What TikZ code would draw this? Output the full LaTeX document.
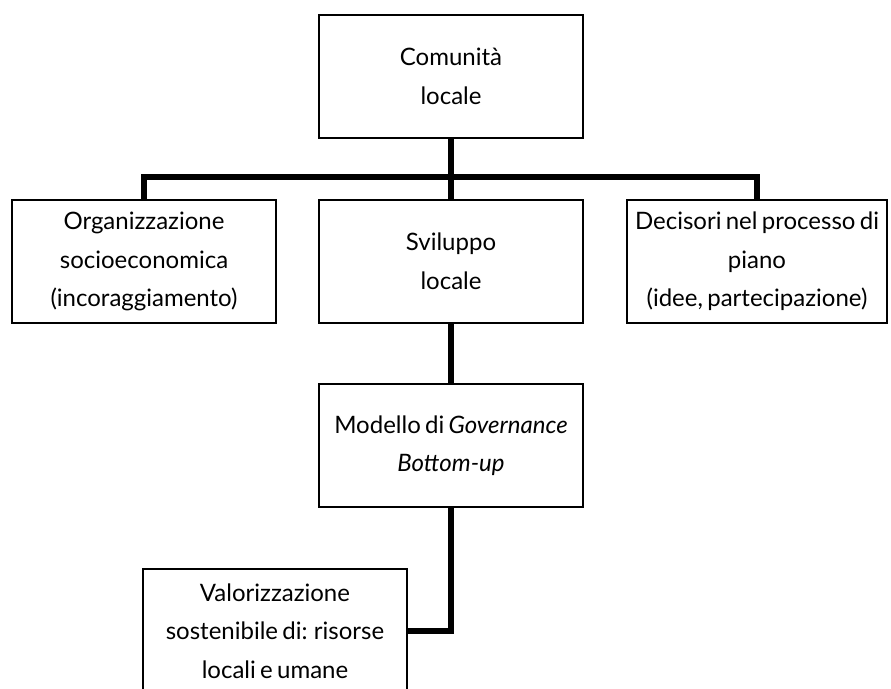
\documentclass[tikz,border=0pt]{standalone}
\usepackage{fontspec}
\setmainfont{Lato}[WordSpace=0.7]
\begin{document}
\begin{tikzpicture}[x=1pt,y=-1pt,
  box/.style={draw=black, line width=1.4pt, fill=white, inner sep=0pt,
    minimum width=264pt, minimum height=123pt, align=center,
    font=\fontsize{24pt}{38.5pt}\selectfont},
  link/.style={line width=6pt, line join=miter, line cap=butt}]
\useasboundingbox (0,0) rectangle (891,688);
\clip (0,0) rectangle (891,688);

% boxes
\coordinate (bar) at (452,177);
\node[box] (top) at (451,76.5) {Comunità\\locale};
\node[box] (org) at (144,261.5) {Organizzazione\\socioeconomica\\(incoraggiamento)};
\node[box] (sv)  at (451,261.5) {Sviluppo\\locale};
\node[box, minimum width=260pt] (dec) at (757,261.5) {Decisori nel processo di\\piano\\(idee, partecipazione)};
\node[box] (gov) at (451,445.5) {Modello di \textit{Governance}\\\textit{Bottom-up}};
\node[box, minimum height=124pt] (val) at (275,631) {Valorizzazione\\sostenibile di: risorse\\locali e umane};

% thick connectors
\draw[link] (top.south) -- (sv.north);
\draw[link] (org.north) |- (bar) -| (dec.north);
\draw[link] (sv.south) -- (gov.north);
\draw[link] (gov.south) |- (val.east);
\end{tikzpicture}
\end{document}
